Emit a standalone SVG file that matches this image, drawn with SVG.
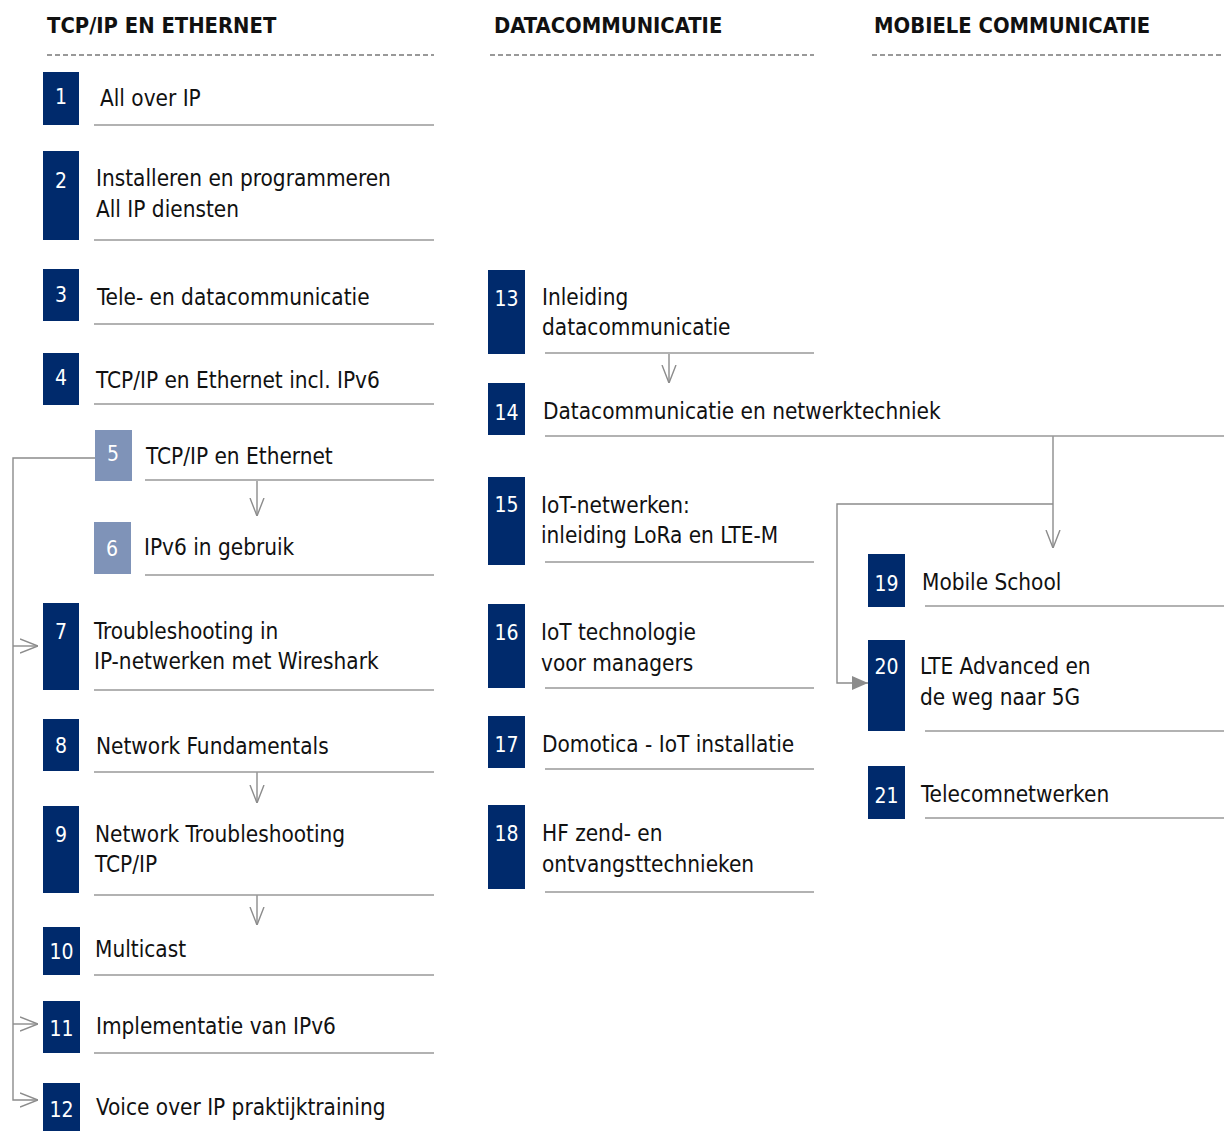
<svg xmlns="http://www.w3.org/2000/svg" width="1224" height="1131" viewBox="0 0 1224 1131">
<style>
.hd{font-family:"DejaVu Sans Condensed","DejaVu Sans",sans-serif;font-weight:bold;font-size:21.8px;fill:#111;}
.dash{stroke:#999;stroke-width:2;stroke-dasharray:5 3;fill:none;}
.box{fill:#002a6c;}
.boxl{fill:#7f93b8;}
.num{font-family:"DejaVu Sans Condensed","DejaVu Sans",sans-serif;font-size:21px;fill:#fff;text-anchor:middle;}
.lbl{font-family:"DejaVu Sans Condensed","DejaVu Sans",sans-serif;font-size:22.4px;fill:#111;}
.ul{stroke:#999;stroke-width:1.6;fill:none;}
.con{stroke:#8c8c8c;stroke-width:1.4;fill:none;}
</style>
<defs>
<marker id="open" viewBox="0 0 18 16" refX="18" refY="8" markerWidth="18" markerHeight="16" markerUnits="userSpaceOnUse" orient="auto">
<path d="M0,1 L18,8 L0,15" fill="none" stroke="#8c8c8c" stroke-width="1.4"/>
</marker>
<marker id="fill" viewBox="0 0 16 14" refX="16" refY="7" markerWidth="16" markerHeight="14" markerUnits="userSpaceOnUse" orient="auto">
<path d="M0,0 L16,7 L0,14 Z" fill="#8c8c8c"/>
</marker>
</defs>

<g id="headers">
<text class="hd" x="47" y="33">TCP/IP EN ETHERNET</text>
<line class="dash" x1="47" y1="55" x2="434" y2="55"/>
<text class="hd" x="494" y="33">DATACOMMUNICATIE</text>
<line class="dash" x1="490" y1="55" x2="814" y2="55"/>
<text class="hd" x="874" y="33">MOBIELE COMMUNICATIE</text>
<line class="dash" x1="872" y1="55" x2="1224" y2="55"/>
</g>

<g id="connectors">
<line class="con" x1="257" y1="481" x2="257" y2="516" marker-end="url(#open)"/>
<line class="con" x1="257" y1="772" x2="257" y2="803" marker-end="url(#open)"/>
<line class="con" x1="257" y1="895" x2="257" y2="925" marker-end="url(#open)"/>
<path class="con" d="M95,458 H13 V1100 H38" marker-end="url(#open)"/>
<path class="con" d="M13,646 H38" marker-end="url(#open)"/>
<path class="con" d="M13,1024 H38" marker-end="url(#open)"/>
<line class="con" x1="669" y1="354" x2="669" y2="383" marker-end="url(#open)"/>
<line class="con" x1="1053" y1="436" x2="1053" y2="548" marker-end="url(#open)"/>
<path class="con" d="M1053,504 H837 V683 H868" marker-end="url(#fill)"/>
</g>

<g id="n1"><rect class="box" x="43" y="72" width="36" height="53"/><text class="num" x="61" y="104">1</text><text class="lbl" x="100" y="106">All over IP</text><line class="ul" x1="94" y1="125" x2="434" y2="125"/></g>
<g id="n2"><rect class="box" x="43" y="151" width="36" height="89"/><text class="num" x="61" y="188">2</text><text class="lbl" x="96" y="186">Installeren en programmeren</text><text class="lbl" x="96" y="217">All IP diensten</text><line class="ul" x1="94" y1="240" x2="434" y2="240"/></g>
<g id="n3"><rect class="box" x="43" y="269" width="36" height="52"/><text class="num" x="61" y="302">3</text><text class="lbl" x="97" y="305">Tele- en datacommunicatie</text><line class="ul" x1="94" y1="324" x2="434" y2="324"/></g>
<g id="n4"><rect class="box" x="43" y="353" width="36" height="52"/><text class="num" x="61" y="385">4</text><text class="lbl" x="96" y="388">TCP/IP en Ethernet incl. IPv6</text><line class="ul" x1="94" y1="404" x2="434" y2="404"/></g>
<g id="n5"><rect class="boxl" x="95" y="430" width="37" height="51"/><text class="num" x="113" y="461">5</text><text class="lbl" x="146" y="464">TCP/IP en Ethernet</text><line class="ul" x1="145" y1="480" x2="434" y2="480"/></g>
<g id="n6"><rect class="boxl" x="94" y="522" width="37" height="52"/><text class="num" x="112" y="556">6</text><text class="lbl" x="144" y="555">IPv6 in gebruik</text><line class="ul" x1="145" y1="575" x2="434" y2="575"/></g>
<g id="n7"><rect class="box" x="43" y="603" width="36" height="87"/><text class="num" x="61" y="639">7</text><text class="lbl" x="94" y="639">Troubleshooting in</text><text class="lbl" x="94" y="669">IP-netwerken met Wireshark</text><line class="ul" x1="94" y1="690" x2="434" y2="690"/></g>
<g id="n8"><rect class="box" x="43" y="719" width="36" height="52"/><text class="num" x="61" y="753">8</text><text class="lbl" x="96" y="754">Network Fundamentals</text><line class="ul" x1="94" y1="772" x2="434" y2="772"/></g>
<g id="n9"><rect class="box" x="43" y="806" width="36" height="87"/><text class="num" x="61" y="842">9</text><text class="lbl" x="95" y="842">Network Troubleshooting</text><text class="lbl" x="95" y="872">TCP/IP</text><line class="ul" x1="94" y1="895" x2="434" y2="895"/></g>
<g id="n10"><rect class="box" x="43" y="927" width="37" height="48"/><text class="num" x="61.5" y="959">10</text><text class="lbl" x="95" y="957">Multicast</text><line class="ul" x1="94" y1="975" x2="434" y2="975"/></g>
<g id="n11"><rect class="box" x="43" y="1001" width="37" height="52"/><text class="num" x="61.5" y="1036">11</text><text class="lbl" x="96" y="1034">Implementatie van IPv6</text><line class="ul" x1="94" y1="1053" x2="434" y2="1053"/></g>
<g id="n12"><rect class="box" x="43" y="1083" width="37" height="48"/><text class="num" x="61.5" y="1117">12</text><text class="lbl" x="96" y="1115">Voice over IP praktijktraining</text></g>

<g id="n13"><rect class="box" x="488" y="270" width="37" height="84"/><text class="num" x="506.5" y="306">13</text><text class="lbl" x="542" y="305">Inleiding</text><text class="lbl" x="542" y="335">datacommunicatie</text><line class="ul" x1="545" y1="353" x2="814" y2="353"/></g>
<g id="n14"><rect class="box" x="488" y="383" width="37" height="52"/><text class="num" x="506.5" y="420">14</text><text class="lbl" x="543" y="419">Datacommunicatie en netwerktechniek</text><line class="ul" x1="545" y1="436" x2="1224" y2="436"/></g>
<g id="n15"><rect class="box" x="488" y="477" width="37" height="88"/><text class="num" x="506.5" y="512">15</text><text class="lbl" x="541" y="513">IoT-netwerken:</text><text class="lbl" x="541" y="543">inleiding LoRa en LTE-M</text><line class="ul" x1="545" y1="562" x2="814" y2="562"/></g>
<g id="n16"><rect class="box" x="488" y="604" width="37" height="84"/><text class="num" x="506.5" y="640">16</text><text class="lbl" x="541" y="640">IoT technologie</text><text class="lbl" x="541" y="671">voor managers</text><line class="ul" x1="545" y1="688" x2="814" y2="688"/></g>
<g id="n17"><rect class="box" x="488" y="716" width="37" height="52"/><text class="num" x="506.5" y="752">17</text><text class="lbl" x="542" y="752">Domotica - IoT installatie</text><line class="ul" x1="545" y1="769" x2="814" y2="769"/></g>
<g id="n18"><rect class="box" x="488" y="805" width="37" height="84"/><text class="num" x="506.5" y="841">18</text><text class="lbl" x="542" y="841">HF zend- en</text><text class="lbl" x="542" y="872">ontvangsttechnieken</text><line class="ul" x1="545" y1="892" x2="814" y2="892"/></g>

<g id="n19"><rect class="box" x="868" y="554" width="37" height="53"/><text class="num" x="886.5" y="591">19</text><text class="lbl" x="922" y="590">Mobile School</text><line class="ul" x1="925" y1="606" x2="1224" y2="606"/></g>
<g id="n20"><rect class="box" x="868" y="640" width="37" height="91"/><text class="num" x="886.5" y="674">20</text><text class="lbl" x="920" y="674">LTE Advanced en</text><text class="lbl" x="920" y="705">de weg naar 5G</text><line class="ul" x1="925" y1="731" x2="1224" y2="731"/></g>
<g id="n21"><rect class="box" x="868" y="766" width="37" height="53"/><text class="num" x="886.5" y="803">21</text><text class="lbl" x="921" y="802">Telecomnetwerken</text><line class="ul" x1="925" y1="818" x2="1224" y2="818"/></g>
</svg>
